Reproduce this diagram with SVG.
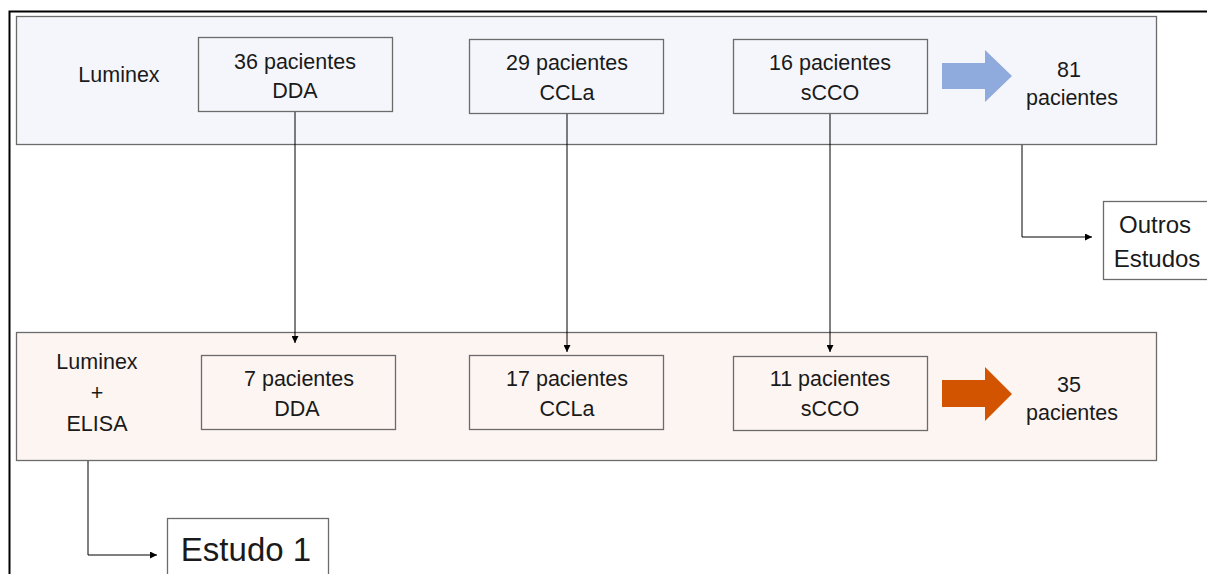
<svg xmlns="http://www.w3.org/2000/svg" width="1207" height="574" viewBox="0 0 1207 574">
<style>
text{font-family:"Liberation Sans",Arial,sans-serif;font-size:21.5px;fill:#1a1a1a;text-anchor:middle}
.box{stroke:#6b6b6b;stroke-width:1.3}
.top{fill:#f5f6fb}
.bot{fill:#fdf5f2}
.ln{stroke:#000;stroke-width:1;fill:none}
</style>
<defs>
<marker id="ah" viewBox="0 0 10 10" refX="10" refY="5" markerWidth="7" markerHeight="7" markerUnits="userSpaceOnUse" orient="auto"><path d="M0,0 L10,5 L0,10 Z" fill="#000"/></marker>
</defs>
<rect width="1207" height="574" fill="#fff"/>
<path d="M9.5,574 V11.5 H1207" fill="none" stroke="#000" stroke-width="2"/>
<g id="panel-luminex">
<rect class="box top" x="16.5" y="16.5" width="1140" height="128"/>
<text x="119" y="82">Luminex</text>
</g>
<g id="panel-elisa">
<rect class="box bot" x="16.5" y="332.5" width="1140" height="128"/>
<text x="97" y="369">Luminex</text>
<text x="97" y="400">+</text>
<text x="97" y="431">ELISA</text>
</g>
<g id="connectors">
<path class="ln" d="M295,111 V343" marker-end="url(#ah)"/>
<path class="ln" d="M567,113 V352" marker-end="url(#ah)"/>
<path class="ln" d="M830,113 V352" marker-end="url(#ah)"/>
<path class="ln" d="M1022,145 V237 H1092" marker-end="url(#ah)"/>
<path class="ln" d="M88,461 V555 H157" marker-end="url(#ah)"/>
</g>
<g id="n-dda-36"><rect class="box top" x="198.5" y="37.5" width="194" height="74"/><text x="295" y="69">36 pacientes</text><text x="295" y="98">DDA</text></g>
<g id="n-ccla-29"><rect class="box top" x="469.5" y="39.5" width="194" height="74"/><text x="567" y="70">29 pacientes</text><text x="567" y="100">CCLa</text></g>
<g id="n-scco-16"><rect class="box top" x="733.5" y="39.5" width="194" height="74"/><text x="830" y="70">16 pacientes</text><text x="830" y="100">sCCO</text></g>
<g id="arrow-blue"><path d="M942,63 H985 V50 L1012,76 L985,102 V89 H942 Z" fill="#8faadc"/></g>
<g id="n-total-81"><text x="1069" y="77">81</text><text x="1072" y="105">pacientes</text></g>
<g id="n-dda-7"><rect class="box bot" x="201.5" y="355.5" width="194" height="74"/><text x="299" y="386">7 pacientes</text><text x="297" y="416">DDA</text></g>
<g id="n-ccla-17"><rect class="box bot" x="469.5" y="355.5" width="194" height="74"/><text x="567" y="386">17 pacientes</text><text x="567" y="416">CCLa</text></g>
<g id="n-scco-11"><rect class="box bot" x="733.5" y="356.5" width="194" height="74"/><text x="830" y="386">11 pacientes</text><text x="830" y="416">sCCO</text></g>
<g id="arrow-orange"><path d="M942,380 H985 V367 L1012,394 L985,421 V407 H942 Z" fill="#d35400"/></g>
<g id="n-total-35"><text x="1069" y="392">35</text><text x="1072" y="420">pacientes</text></g>
<g id="n-outros"><rect x="1103.5" y="201.5" width="110" height="78" fill="#fff" stroke="#6b6b6b" stroke-width="1.3"/><text x="1155" y="233" style="font-size:24px">Outros</text><text x="1157" y="267" style="font-size:24px">Estudos</text></g>
<g id="n-estudo1"><rect x="167.5" y="518.5" width="161" height="70" fill="#fff" stroke="#6b6b6b" stroke-width="1.3"/><text x="246" y="561" style="font-size:33px">Estudo 1</text></g>
</svg>
